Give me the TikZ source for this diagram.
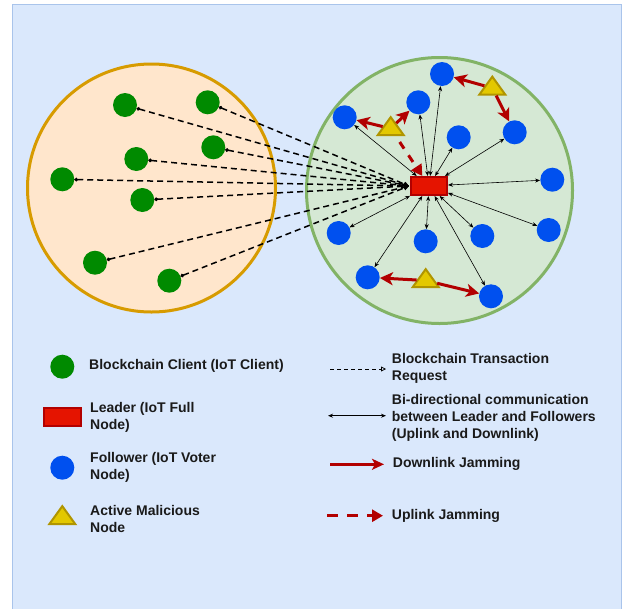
\documentclass[tikz,border=0pt]{standalone}
\usepackage{fontspec}
\setmainfont{Liberation Sans}
\usetikzlibrary{arrows.meta,shapes.geometric}
\definecolor{bgfill}{HTML}{DAE8FC}
\definecolor{bgline}{HTML}{A9C4EB}
\definecolor{orfill}{HTML}{FFE6CC}
\definecolor{orline}{HTML}{D79B00}
\definecolor{grfill}{HTML}{D5E8D4}
\definecolor{grline}{HTML}{82B366}
\definecolor{clientgreen}{HTML}{008A00}
\definecolor{follblue}{HTML}{0050EF}
\definecolor{leadred}{HTML}{E51400}
\definecolor{leadline}{HTML}{B20000}
\definecolor{malfill}{HTML}{E3C800}
\definecolor{malline}{HTML}{B09500}
\definecolor{jamred}{HTML}{B20000}
\definecolor{txt}{HTML}{1A1A1A}
\begin{document}
\begin{tikzpicture}[x=1pt,y=-1pt,
  client/.style={circle,fill=clientgreen,minimum size=24pt,inner sep=0pt},
  follower/.style={circle,fill=follblue,minimum size=24pt,inner sep=0pt},
  leader/.style={rectangle,fill=leadred,draw=leadline,line width=2pt,minimum width=36pt,minimum height=18pt,inner sep=0pt},
  malicious/.style={isosceles triangle,isosceles triangle apex angle=70,shape border rotate=90,
     isosceles triangle stretches,minimum width=26pt,minimum height=18pt,inner sep=0pt,
     fill=malfill,draw=malline,line width=2pt},
  request/.style={black,line width=1.5pt,dash pattern=on 6pt off 4pt,
     {Circle[length=3.5pt]}-{Triangle[open,length=5pt,width=5pt,line width=0.8pt]}},
  reqleg/.style={black,line width=1pt,dash pattern=on 4pt off 3pt,
     -{Triangle[open,length=5pt,width=5pt,line width=0.8pt]}},
  bidir/.style={black,line width=0.6pt,{Stealth[length=5pt,width=4pt]}-{Stealth[length=5pt,width=4pt]}},
  downjam/.style={jamred,line width=3pt,-{Stealth[length=13pt,width=13pt,inset=3.5pt]}},
  upjam/.style={jamred,line width=3pt,dash pattern=on 8pt off 8pt,-{Triangle[length=11pt,width=12pt]}},
  lbl/.style={anchor=west,align=left,inner sep=0pt,text=txt,font=\bfseries\fontsize{14}{17}\selectfont}
]
\useasboundingbox (0,0) rectangle (623,608);
\fill[bgfill] (12,4) rectangle (621,612);
\draw[bgline,line width=1pt] (12,612) -- (12,4) -- (621,4) -- (621,612);

% regions
\draw[orline,fill=orfill,line width=3pt] (151.5,188) circle[radius=124pt];
\draw[grline,fill=grfill,line width=3pt] (439.5,190.5) circle[radius=133pt];

% clients
\node[client] (c1) at (125,105) {};
\node[client] (c2) at (207.7,102.3) {};
\node[client] (c3) at (213.3,147.3) {};
\node[client] (c4) at (136.3,159) {};
\node[client] (c5) at (62.3,179.3) {};
\node[client] (c6) at (142.3,200) {};
\node[client] (c7) at (95,262.7) {};
\node[client] (c8) at (169.3,280.7) {};

% leader
\node[leader] (L) at (429,186) {};

% followers
\node[follower] (f1) at (344.7,117.3) {};
\node[follower] (f2) at (418.3,102.3) {};
\node[follower] (f3) at (442,74) {};
\node[follower] (f4) at (458.7,137.3) {};
\node[follower] (f5) at (514.7,132.3) {};
\node[follower] (f6) at (552.3,179.7) {};
\node[follower] (f7) at (338.7,233) {};
\node[follower] (f8) at (425.7,241.3) {};
\node[follower] (f9) at (482.3,236) {};
\node[follower] (f10) at (548.7,230) {};
\node[follower] (f11) at (367.7,277.3) {};
\node[follower] (f12) at (491,296.3) {};

% requests
\foreach \c in {c1,c2,c3,c4,c5,c6,c7,c8}
  \draw[request] (\c) -- ([xshift=-1pt]L.west);

% bidirectional
\foreach \f in {f1,f2,f3,f4,f5,f6,f7,f8,f9,f10,f11,f12}
  \draw[bidir] (L) -- (\f);

% malicious nodes
\node[malicious] (t1) at (390.7,128.5) {};
\node[malicious] (t2) at (492.3,88) {};
\node[malicious] (t3) at (425.7,280.5) {};

% jamming
\draw[downjam] (t1) -- (f1);
\draw[downjam] (t1) -- (f2);
\draw[downjam] (t2) -- (f3);
\draw[downjam] (t2) -- (f5);
\draw[downjam] (t3) -- (f11);
\draw[downjam] (t3) -- (f12);
\draw[upjam,shorten <=7pt] (t1) -- (L);

% legend left
\node[client] (lc) at (62.3,366.7) {};
\node[lbl] (lct) at (89,366) {Blockchain Client (IoT Client)};
\node[leader,minimum width=37pt] (ll) at (62.5,417) {};
\node[lbl] (llt) at (90,417.5) {Leader (IoT Full\\Node)};
\node[follower] (lf) at (62.3,467.7) {};
\node[lbl] (lft) at (90,467.5) {Follower (IoT Voter\\Node)};
\node[malicious] (lm) at (62.3,517.5) {};
\node[lbl] (lmt) at (90,518.5) {Active Malicious\\Node};

% legend right
\coordinate (r1a) at (330,369);
\coordinate (r1b) at (386,369);
\draw[reqleg] (r1a) -- (r1b);
\node[lbl] (r1t) at (391.7,368.5) {Blockchain Transaction\\Request};
\coordinate (r2a) at (328,415.7);
\coordinate (r2b) at (386,415.7);
\draw[bidir,line width=0.9pt] (r2a) -- (r2b);
\node[lbl] (r2t) at (391.7,417.5) {Bi-directional communication\\between Leader and Followers\\(Uplink and Downlink)};
\coordinate (r3a) at (330,464.3);
\coordinate (r3b) at (384,464.3);
\draw[downjam,line width=2.5pt,-{Stealth[length=12pt,width=11pt,inset=3pt]}] (r3a) -- (r3b);
\node[lbl] (r3t) at (392.7,464) {Downlink Jamming};
\coordinate (r4a) at (327,515.7);
\coordinate (r4b) at (383,515.7);
\draw[upjam,line width=3pt,dash pattern=on 11pt off 9pt] (r4a) -- (r4b);
\node[lbl] (r4t) at (391.7,515.7) {Uplink Jamming};
\end{tikzpicture}
\end{document}
